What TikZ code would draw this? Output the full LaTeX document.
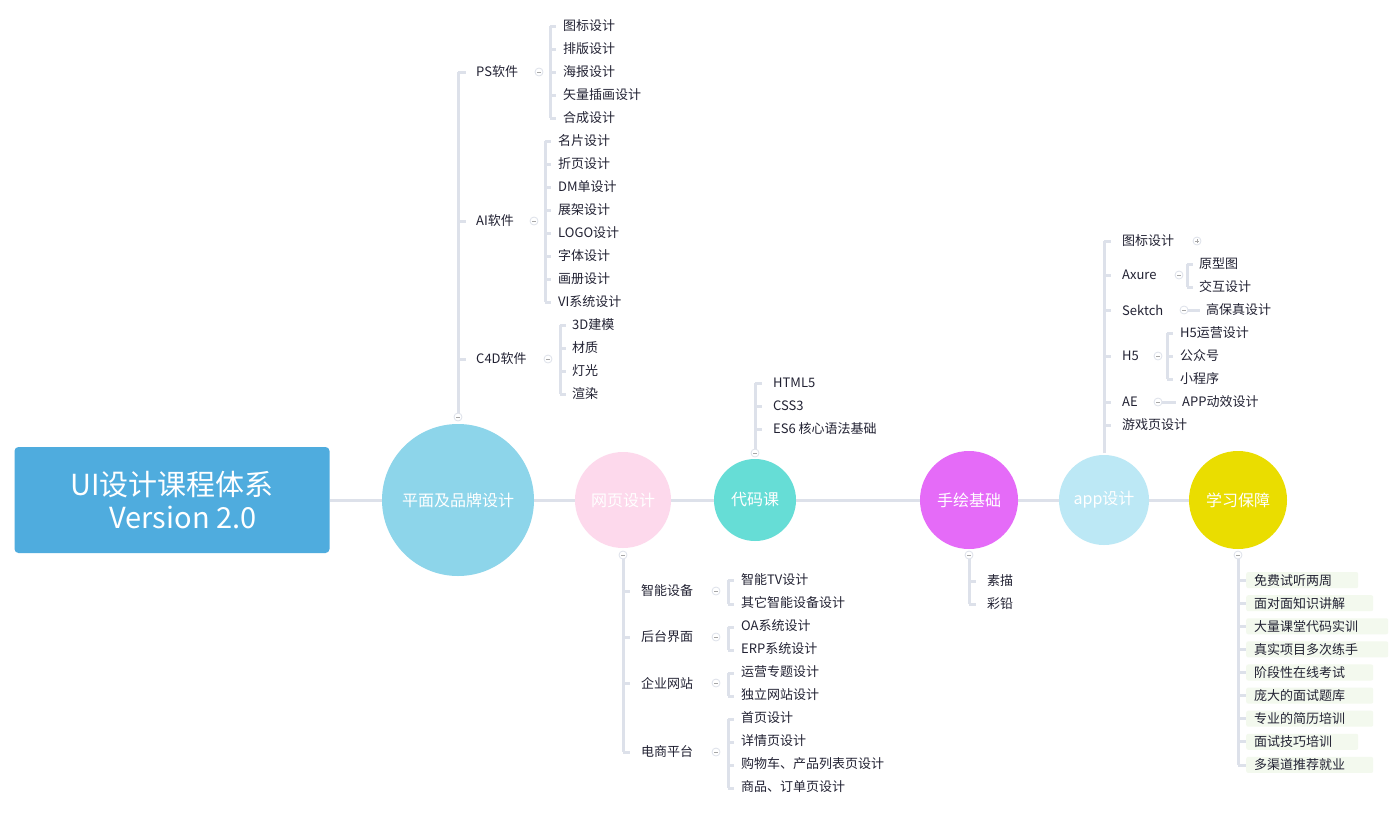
\documentclass[tikz,border=0pt]{standalone}
\usepackage{fontspec}
\setmainfont{Noto Sans CJK SC}
\begin{document}
\begin{tikzpicture}[x=1pt,y=-1pt,
  ln/.style={draw=lineC,line width=3pt},
  lbl/.style={anchor=west,inner sep=0pt,text=txtC,font=\fontsize{13}{15}\selectfont},
  bx/.style={anchor=west,inner sep=2pt,fill=boxC,rounded corners=2pt,text=txtC,font=\fontsize{13}{15}\selectfont},
  circ/.style={circle,inner sep=0pt,text=white,font=\fontsize{16}{18}\selectfont},
  col/.style={circle,draw=lineC,fill=white,line width=0.8pt,minimum size=8pt,inner sep=0pt}]
\definecolor{lineC}{HTML}{DDE1EA}
\definecolor{txtC}{HTML}{222233}
\definecolor{boxC}{HTML}{F3F9EE}
\useasboundingbox[fill=white] (0,0) rectangle (1399,814);
% main line
\draw[ln] (330,500) -- (1190,500);
% root
\node[fill={rgb,255:red,79;green,172;blue,222},rounded corners=4pt,minimum width=315pt,minimum height=106pt,text=white,align=center,font=\fontsize{29}{33}\selectfont] (root) at (172,500) {UI设计课程体系\\\hspace*{22pt}Version 2.0};
% branch lines first
\draw[ln] (458,420) -- (458,72);
\foreach \y in {72,221,359} \draw[ln] (458,\y) -- (466,\y);
\draw[ln] (550,26) -- (550,118); \foreach \y in {26,49,72,95,118} \draw[ln] (550,\y) -- (556,\y);
\draw[ln] (545,141) -- (545,302); \foreach \y in {141,164,187,210,233,256,279,302} \draw[ln] (545,\y) -- (551,\y);
\draw[ln] (560,325) -- (560,394); \foreach \y in {325,348,371,394} \draw[ln] (560,\y) -- (566,\y);
\draw[ln] (755,453) -- (755,383); \foreach \y in {383,406,429} \draw[ln] (755,\y) -- (762,\y);
\draw[ln] (623,555) -- (623,752); \foreach \y in {591,637,683,752} \draw[ln] (623,\y) -- (630,\y);
\draw[ln] (728,580) -- (728,604); \draw[ln] (728,627) -- (728,650); \draw[ln] (728,673) -- (728,696); \draw[ln] (728,719) -- (728,788);
\foreach \y in {580,604,627,650,673,696,719,742,765,788} \draw[ln] (728,\y) -- (734,\y);
\draw[ln] (969,555) -- (969,604); \foreach \y in {581,604} \draw[ln] (969,\y) -- (976,\y);
\draw[ln] (1104,453) -- (1104,241); \foreach \y in {241,275,310,356,402,425} \draw[ln] (1104,\y) -- (1111,\y);
\draw[ln] (1187,264) -- (1187,287); \foreach \y in {264,287} \draw[ln] (1187,\y) -- (1193,\y);
\draw[ln] (1184,310) -- (1200,310);
\draw[ln] (1167,333) -- (1167,379); \foreach \y in {333,356,379} \draw[ln] (1167,\y) -- (1173,\y);
\draw[ln] (1158,402) -- (1176,402);
\draw[ln] (1238,555) -- (1238,765); \foreach \y in {580,603,626,649,672,695,718,741,765} \draw[ln] (1238,\y) -- (1246,\y);
% circles
\node[circ,fill={rgb,255:red,141;green,213;blue,234},minimum size=152pt] (c1) at (458,500) {平面及品牌设计};
\node[circ,fill={rgb,255:red,253;green,217;blue,236},minimum size=96pt] (c2) at (623,500) {网页设计};
\node[circ,fill={rgb,255:red,102;green,221;blue,214},minimum size=82pt] (c3) at (755,500) {代码课};
\node[circ,fill={rgb,255:red,229;green,107;blue,248},minimum size=98pt] (c4) at (969,500) {手绘基础};
\node[circ,fill={rgb,255:red,188;green,232;blue,245},minimum size=90pt] (c5) at (1104,500) {app设计};
\node[circ,fill={rgb,255:red,234;green,221;blue,0},minimum size=98pt] (c6) at (1238,500) {学习保障};
% collapse markers
\foreach \n/\p in {k1/{458,417},k2/{539,72},k3/{534,221},k4/{548,359},k5/{755,453},k6/{623,555},k7/{716,591},k8/{716,637},k9/{716,683},k10/{716,752},k11/{969,555},k12/{1179,275},k13/{1184,310},k14/{1158,356},k15/{1158,402},k16/{1238,555}}
  {\node[col] (\n) at (\p) {}; \draw[gray!70,line width=0.6pt] ([xshift=-2pt]\n.center) -- ([xshift=2pt]\n.center);}
\node[col] (kp) at (1197,241) {}; \draw[gray!70,line width=0.6pt] ([xshift=-2pt]kp.center) -- ([xshift=2pt]kp.center) ([yshift=-2pt]kp.center) -- ([yshift=2pt]kp.center);
% labels
\node[lbl] (ps) at (476,72) {PS软件};
\node[lbl] (ai) at (476,221) {AI软件};
\node[lbl] (c4d) at (476,359) {C4D软件};
\foreach \t [count=\i] in {图标设计,排版设计,海报设计,矢量插画设计,合成设计} \node[lbl] (ps\i) at (563,3+23*\i) {\t};
\foreach \t [count=\i] in {名片设计,折页设计,DM单设计,展架设计,LOGO设计,字体设计,画册设计,VI系统设计} \node[lbl] (ai\i) at (558,118+23*\i) {\t};
\foreach \t [count=\i] in {3D建模,材质,灯光,渲染} \node[lbl] (cd\i) at (572,302+23*\i) {\t};
\foreach \t [count=\i] in {HTML5,CSS3,ES6 核心语法基础} \node[lbl] (dm\i) at (773,360+23*\i) {\t};
\node[lbl] (w1) at (641,591) {智能设备};
\node[lbl] (w2) at (641,637) {后台界面};
\node[lbl] (w3) at (641,683) {企业网站};
\node[lbl] (w4) at (641,752) {电商平台};
\foreach \t [count=\i] in {智能TV设计,其它智能设备设计,OA系统设计,ERP系统设计,运营专题设计,独立网站设计,首页设计,详情页设计,购物车、产品列表页设计,商品、订单页设计} \node[lbl] (ww\i) at (741,557+23*\i) {\t};
\node[lbl] (h1) at (987,581) {素描};
\node[lbl] (h2) at (987,604) {彩铅};
\node[lbl] (a1) at (1122,241) {图标设计};
\node[lbl] (a2) at (1122,275) {Axure};
\node[lbl] (a3) at (1122,310) {Sektch};
\node[lbl] (a4) at (1122,356) {H5};
\node[lbl] (a5) at (1122,402) {AE};
\node[lbl] (a6) at (1122,425) {游戏页设计};
\node[lbl] (ax1) at (1199,264) {原型图};
\node[lbl] (ax2) at (1199,287) {交互设计};
\node[lbl] (sk1) at (1206,310) {高保真设计};
\node[lbl] (h51) at (1180,333) {H5运营设计};
\node[lbl] (h52) at (1180,356) {公众号};
\node[lbl] (h53) at (1180,379) {小程序};
\node[lbl] (ae1) at (1182,402) {APP动效设计};
\foreach \t [count=\i] in {免费试听两周,面对面知识讲解,大量课堂代码实训,真实项目多次练手,阶段性在线考试,庞大的面试题库,专业的简历培训,面试技巧培训,多渠道推荐就业} \node[bx,text width={(\i==1 || \i==8) ? 96 : ((\i==3 || \i==4) ? 126 : 111)},align=left,inner xsep=8pt] (s\i) at (1246,557+23.1*\i) {\t};
\end{tikzpicture}
\end{document}
